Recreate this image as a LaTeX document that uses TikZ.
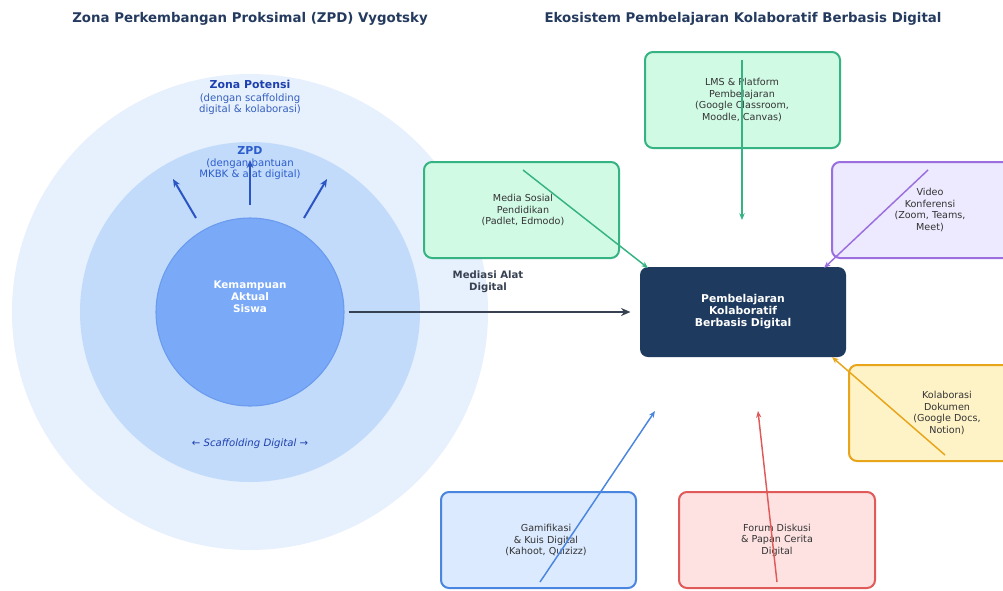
\documentclass[tikz,border=0pt]{standalone}
\usepackage{fontspec}
\setmainfont{DejaVu Sans}
\usetikzlibrary{arrows.meta}
\definecolor{navy}{HTML}{1E3A5F}
\definecolor{titlec}{HTML}{243A5E}
\definecolor{outerc}{HTML}{E7F0FD}
\definecolor{midc}{HTML}{C2DBFB}
\definecolor{innerc}{HTML}{7AA9F7}
\definecolor{inneredge}{HTML}{6A9BEE}
\definecolor{zpdc}{HTML}{2B5DCC}
\definecolor{zonac}{HTML}{1E40AF}
\definecolor{zonasub}{HTML}{3560BE}
\definecolor{arrowblue}{HTML}{2C55C4}
\definecolor{darkgray}{HTML}{374151}
\definecolor{boxtext}{HTML}{333333}
\definecolor{greenE}{HTML}{36B383}
\definecolor{greenF}{HTML}{D1FAE5}
\definecolor{purpE}{HTML}{9B6FE0}
\definecolor{purpF}{HTML}{EDE9FE}
\definecolor{oranE}{HTML}{E8A51A}
\definecolor{oranF}{HTML}{FEF3C7}
\definecolor{blueE}{HTML}{4A86E0}
\definecolor{blueF}{HTML}{DBEAFE}
\definecolor{redE}{HTML}{E05A5A}
\definecolor{redF}{HTML}{FEE2E2}
\tikzset{
  toolbox/.style={rounded corners=6pt, line width=1.5pt},
  boxlabel/.style={align=center, text=boxtext, font=\fontsize{7.2}{8.6}\selectfont},
  titletext/.style={font=\bfseries\fontsize{10}{12}\selectfont, text=titlec},
  link/.style={line width=1.1pt, -{Stealth[length=5pt,width=4pt]}},
  zpdarrow/.style={line width=1.5pt, arrowblue, -{Stealth[length=6pt,width=5pt]}},
}
\begin{document}
\begin{tikzpicture}[x=0.75pt,y=-0.75pt]
\useasboundingbox (0,0) rectangle (1003,590);
\clip (0,0) rectangle (1003,590);
\fill[white] (0,0) rectangle (1003,590);

% titles
\node[titletext] (t1) at (250,19) {Zona Perkembangan Proksimal (ZPD) Vygotsky};
\node[titletext] (t2) at (743,19) {Ekosistem Pembelajaran Kolaboratif Berbasis Digital};

% circles
\node[circle, fill=outerc, minimum size=476*0.75pt, inner sep=0pt] (outer) at (250,312) {};
\node[circle, fill=midc, minimum size=340*0.75pt, inner sep=0pt] (mid) at (250,312) {};
\node[circle, fill=innerc, draw=inneredge, line width=0.8pt, minimum size=188*0.75pt, inner sep=0pt] (inner) at (250,312) {};

\node[align=center, text=white, font=\bfseries\fontsize{7.8}{9}\selectfont] (kem) at (250,297) {Kemampuan\\Aktual\\Siswa};

\node[align=center, text=zonac, font=\bfseries\fontsize{8.2}{9}\selectfont] (zp) at (250,84) {Zona Potensi};
\node[align=center, text=zonasub, font=\fontsize{7.6}{8.4}\selectfont] (zps) at (250,104) {(dengan scaffolding\\digital \& kolaborasi)};

\node[align=center, text=zpdc, font=\bfseries\fontsize{8.2}{9}\selectfont] (zpd) at (250,151) {ZPD};
\node[align=center, text=zpdc, font=\fontsize{7.6}{8.6}\selectfont] (zpds) at (250,169) {(dengan bantuan\\MKBK \& alat digital)};

\coordinate (a1s) at (196,218); \coordinate (a1e) at (173,179);
\coordinate (a2s) at (250,205); \coordinate (a2e) at (250,160);
\coordinate (a3s) at (304,218); \coordinate (a3e) at (327,179);
\draw[zpdarrow] (a1s) -- (a1e);
\draw[zpdarrow] (a2s) -- (a2e);
\draw[zpdarrow] (a3s) -- (a3e);

\node[text=zonac, font=\itshape\fontsize{7.6}{9}\selectfont] (scaf) at (250,444) {← Scaffolding Digital →};

\node[align=center, text=darkgray, font=\bfseries\fontsize{7.6}{9}\selectfont] (med) at (488,282) {Mediasi Alat\\Digital};

% central box
\node[fill=navy, rounded corners=6pt, minimum width=206*0.75pt, minimum height=90*0.75pt, align=center, text=white, font=\bfseries\fontsize{8.1}{9}\selectfont] (center) at (743,312) {Pembelajaran\\Kolaboratif\\Berbasis Digital};

\draw[line width=1.9pt, darkgray, -{Stealth[length=7pt,width=6pt]}, shorten <=3pt, shorten >=7pt] (inner.east) -- (center.west);

% tool boxes
\draw[toolbox, draw=greenE, fill=greenF] (645,52) rectangle (840,148);
\node[boxlabel] (lms) at (742,100) {LMS \& Platform\\Pembelajaran\\(Google Classroom,\\Moodle, Canvas)};

\draw[toolbox, draw=greenE, fill=greenF] (424,162) rectangle (619,258);
\node[boxlabel] (medsos) at (523,210) {Media Sosial\\Pendidikan\\(Padlet, Edmodo)};

\draw[toolbox, draw=purpE, fill=purpF] (832,162) rectangle (1040,258);
\node[boxlabel] (video) at (930,210) {Video\\Konferensi\\(Zoom, Teams,\\Meet)};

\draw[toolbox, draw=oranE, fill=oranF] (849,365) rectangle (1050,461);
\node[boxlabel] (kolab) at (947,413) {Kolaborasi\\Dokumen\\(Google Docs,\\Notion)};

\draw[toolbox, draw=blueE, fill=blueF] (441,492) rectangle (636,588);
\node[boxlabel] (gami) at (546,540) {Gamifikasi\\\& Kuis Digital\\(Kahoot, Quizizz)};

\draw[toolbox, draw=redE, fill=redF] (679,492) rectangle (875,588);
\node[boxlabel] (forum) at (777,540) {Forum Diskusi\\\& Papan Cerita\\Digital};

% connectors
\coordinate (lmsS) at (742,60);   \coordinate (lmsE) at (742,220);
\coordinate (medS) at (523,170);  \coordinate (medE) at (648,268);
\coordinate (vidS) at (928,170);  \coordinate (vidE) at (824,268);
\coordinate (kolS) at (945,455);  \coordinate (kolE) at (832,357);
\coordinate (gamS) at (540,582);  \coordinate (gamE) at (655,411);
\coordinate (forS) at (777,582);  \coordinate (forE) at (758,411);
\draw[link, greenE] (lmsS) -- (lmsE);
\draw[link, greenE] (medS) -- (medE);
\draw[link, purpE] (vidS) -- (vidE);
\draw[link, oranE] (kolS) -- (kolE);
\draw[link, blueE] (gamS) -- (gamE);
\draw[link, redE] (forS) -- (forE);
\end{tikzpicture}
\end{document}
